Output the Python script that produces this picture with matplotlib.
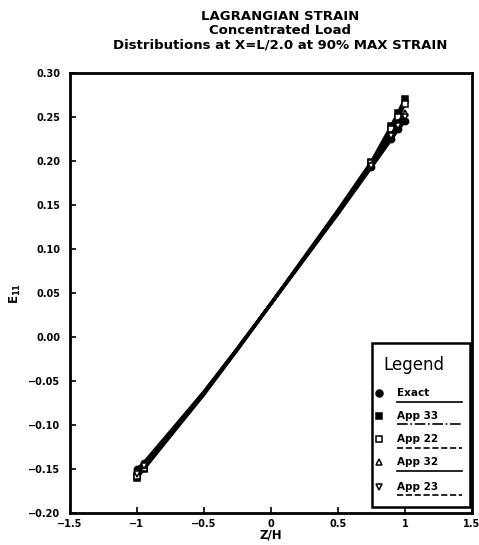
import matplotlib
matplotlib.use("Agg")
import matplotlib.pyplot as plt
from matplotlib.patches import Rectangle

# Z/H positions
z = [-1.0, -0.95, -0.75, -0.5, -0.25, 0.0, 0.25, 0.5, 0.75, 0.9, 0.95, 1.0]

# E11 values
exact = [-0.150, -0.143, -0.107, -0.062, -0.013, 0.038, 0.089, 0.140, 0.193, 0.225, 0.236, 0.245]
app33 = [-0.160, -0.150, -0.112, -0.065, -0.014, 0.038, 0.091, 0.144, 0.199, 0.240, 0.255, 0.270]
app22 = [-0.157, -0.148, -0.111, -0.064, -0.014, 0.038, 0.090, 0.143, 0.198, 0.236, 0.250, 0.265]
app32 = [-0.152, -0.145, -0.109, -0.063, -0.013, 0.038, 0.090, 0.142, 0.196, 0.230, 0.243, 0.255]
app23 = [-0.155, -0.146, -0.110, -0.063, -0.013, 0.038, 0.089, 0.141, 0.194, 0.228, 0.240, 0.250]

series = [
    ("Exact", exact, "o", "black", "-"),
    ("App 33", app33, "s", "black", "-."),
    ("App 22", app22, "s", "white", "--"),
    ("App 32", app32, "^", "white", "-"),
    ("App 23", app23, "v", "white", "--"),
]

xticks = [-1.5, -1, -0.5, 0, 0.5, 1, 1.5]
xticklabels = ["\u22121.5", "\u22121", "\u22120.5", "0", "0.5", "1", "1.5"]
yticks = [-0.20, -0.15, -0.10, -0.05, 0.00, 0.05, 0.10, 0.15, 0.20, 0.25, 0.30]

fig = plt.figure(figsize=(4.79, 5.45), dpi=100)
ax = fig.add_axes([0.146, 0.058, 0.839, 0.808])

# markers only near the ends, the middle reads as one thick line
ends = [0, 1, 8, 9, 10, 11]
for name, vals, mk, fc, ls in series:
    ax.plot(z, vals, color="black", lw=2.4, marker=mk, markersize=4.5,
            markevery=ends, markerfacecolor=fc, markeredgecolor="black",
            markeredgewidth=1.1)

ax.set_xlim(-1.5, 1.5)
ax.set_ylim(-0.20, 0.30)
ax.set_xticks(xticks)
ax.set_xticklabels(xticklabels)
ax.set_yticks(yticks)
ax.set_yticklabels(["%.2f" % v if v >= 0 else "\u2212%.2f" % -v for v in yticks])
ax.tick_params(direction="in", length=4, width=1.2, labelsize=7,
               top=False, right=False)
ax.tick_params(axis="y", pad=7)
ax.tick_params(axis="x", pad=4)
for lab in ax.get_xticklabels() + ax.get_yticklabels():
    lab.set_fontweight("bold")
for sp in ax.spines.values():
    sp.set_linewidth(2)

ax.set_xlabel("Z/H", fontsize=8.5, fontweight="bold", labelpad=0)
ax.set_ylabel("E$_{\\mathbf{11}}$", fontsize=8.5, fontweight="bold", labelpad=4)

fig.text(0.585, 0.97, "LAGRANGIAN STRAIN", ha="center", va="center",
         fontsize=9.5, fontweight="bold")
fig.text(0.585, 0.944, "Concentrated Load", ha="center", va="center",
         fontsize=9.5, fontweight="bold")
fig.text(0.585, 0.917, "Distributions at X=L/2.0 at 90% MAX STRAIN", ha="center",
         va="center", fontsize=9.5, fontweight="bold")

# legend box drawn by hand, like the original plotting package
tr = ax.transAxes
ax.add_patch(Rectangle((0.751, 0.014), 0.244, 0.374, transform=tr,
                       facecolor="white", edgecolor="black", lw=1.8, zorder=5))
ax.text(0.78, 0.338, "Legend", transform=tr, fontsize=12, fontweight="medium",
        va="center", zorder=6)
ypos = [0.274, 0.222, 0.168, 0.116, 0.061]
for (name, vals, mk, fc, ls), yy in zip(series, ypos):
    ax.plot([0.768], [yy], transform=tr, marker=mk, markersize=5,
            markerfacecolor=fc, markeredgecolor="black", markeredgewidth=1.1,
            zorder=6, clip_on=False)
    ax.text(0.815, yy, name, transform=tr, fontsize=7.5, fontweight="bold",
            va="center", zorder=6)
    ax.plot([0.815, 0.975], [yy - 0.02, yy - 0.02], transform=tr, color="black",
            ls=ls, lw=1.2, zorder=6)

fig.savefig("out.png", dpi=100)
